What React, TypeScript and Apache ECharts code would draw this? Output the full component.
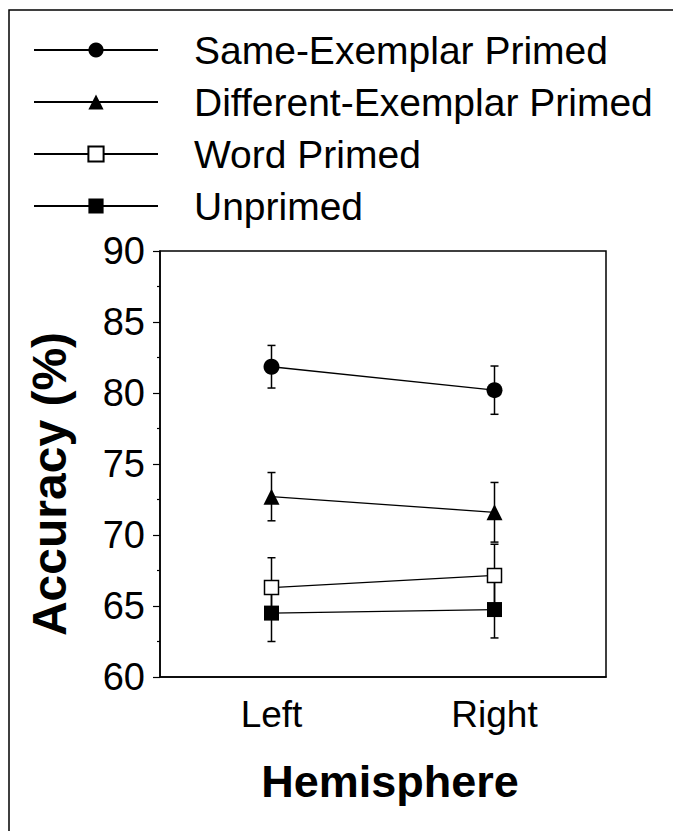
import React, { useEffect, useRef } from "react";
import * as echarts from "echarts";

const categories = ["Left", "Right"];
const seriesNames = [
  "Same-Exemplar Primed",
  "Different-Exemplar Primed",
  "Word Primed",
  "Unprimed",
];
const sameExemplar = [81.85, 80.2];
const sameExemplarErr = [1.5, 1.7];
const differentExemplar = [72.7, 71.6];
const differentExemplarErr = [1.7, 2.1];
const wordPrimed = [66.3, 67.15];
const wordPrimedErr = [2.1, 2.2];
const unprimed = [64.5, 64.75];
const unprimedErr = [2.0, 2.0];
const yTicks = [60, 65, 70, 75, 80, 85, 90];

const FONT = "'Liberation Sans', Arial, Helvetica, sans-serif";

export default function App() {
  const ref = useRef<HTMLDivElement>(null);
  useEffect(() => {
    if (!ref.current) return;
    const chart = echarts.init(ref.current, undefined, { renderer: "svg" });

    const means = [sameExemplar, differentExemplar, wordPrimed, unprimed];
    const errs = [sameExemplarErr, differentExemplarErr, wordPrimedErr, unprimedErr];
    const symbols = ["circle", "triangle", "rect", "rect"];
    const sizes = [16, 16, 14, 15];
    const fills = ["#000", "#000", "#fff", "#000"];

    const errSeries = means.map((m, si) => ({
      type: "custom",
      name: seriesNames[si] + " error",
      z: 1,
      silent: true,
      data: m.map((v, i) => [i, v - errs[si][i], v + errs[si][i]]),
      renderItem: (params: any, api: any) => {
        const x = api.value(0);
        const lo = api.coord([x, api.value(1)]);
        const hi = api.coord([x, api.value(2)]);
        const cap = 4;
        const style = { stroke: "#000", lineWidth: 1.5 };
        return {
          type: "group",
          children: [
            { type: "line", shape: { x1: lo[0], y1: lo[1], x2: hi[0], y2: hi[1] }, style },
            { type: "line", shape: { x1: lo[0] - cap, y1: lo[1], x2: lo[0] + cap, y2: lo[1] }, style },
            { type: "line", shape: { x1: hi[0] - cap, y1: hi[1], x2: hi[0] + cap, y2: hi[1] }, style },
          ],
        };
      },
    }));

    const lineSeries = means.map((m, si) => ({
      type: "line",
      name: seriesNames[si],
      z: 3,
      data: m,
      symbol: symbols[si],
      symbolSize: sizes[si],
      showAllSymbol: true,
      lineStyle: { color: "#000", width: 1.3 },
      itemStyle: {
        color: fills[si],
        borderColor: "#000",
        borderWidth: si === 2 ? 1.5 : 0,
        opacity: 1,
      },
      emphasis: { disabled: true },
    }));

    chart.setOption({
      animation: false,
      backgroundColor: "#fff",
      textStyle: { fontFamily: FONT },
      legend: {
        orient: "vertical",
        left: 33,
        top: 24,
        padding: 0,
        itemWidth: 124,
        itemHeight: 19,
        itemGap: 0,
        selectedMode: false,
        data: seriesNames,
        textStyle: {
          fontFamily: FONT,
          fontSize: 39,
          color: "#000",
          lineHeight: 52,
          padding: [0, 0, 0, 31],
        },
      },
      grid: {
        left: 160,
        top: 251,
        right: 67,
        bottom: 154,
        show: true,
        borderColor: "#000",
        borderWidth: 1.5,
      },
      xAxis: {
        type: "category",
        data: categories,
        boundaryGap: true,
        axisLine: { lineStyle: { color: "#000", width: 1.5 } },
        axisTick: { alignWithLabel: true, length: 6, lineStyle: { color: "#000", width: 1.2 } },
        axisLabel: { fontFamily: FONT, fontSize: 37, color: "#000", margin: 19 },
        name: "Hemisphere",
        nameLocation: "middle",
        nameGap: 82,
        nameTextStyle: {
          fontFamily: FONT,
          fontSize: 45,
          fontWeight: "bold",
          color: "#000",
          padding: [0, 0, 0, 14],
        },
      },
      yAxis: {
        type: "value",
        min: yTicks[0],
        max: yTicks[yTicks.length - 1],
        interval: 5,
        splitLine: { show: false },
        axisLine: { show: true, lineStyle: { color: "#000", width: 1.5 } },
        axisTick: { show: true, length: 7, lineStyle: { color: "#000", width: 1.2 } },
        minorTick: { show: true, splitNumber: 2, length: 3, lineStyle: { color: "#000", width: 1.2 } },
        axisLabel: { fontFamily: FONT, fontSize: 38, color: "#000", margin: 15 },
      },
      graphic: [
        {
          type: "rect",
          z: -10,
          shape: { x: 9, y: 10, width: 800, height: 1000 },
          style: { fill: "none", stroke: "#000", lineWidth: 1.5 },
        },
        {
          type: "text",
          x: 49,
          y: 484,
          rotation: Math.PI / 2,
          style: {
            text: "Accuracy (%)",
            fontFamily: FONT,
            fontSize: 48,
            fontWeight: "bold",
            fill: "#000",
            align: "center",
            verticalAlign: "middle",
          },
        },
      ],
      series: [...errSeries, ...lineSeries],
    });
    return () => chart.dispose();
  }, []);
  return (
    <div
      ref={ref}
      style={{ position: "fixed", left: 0, top: 0, width: 673, height: 831, background: "#fff" }}
    />
  );
}
